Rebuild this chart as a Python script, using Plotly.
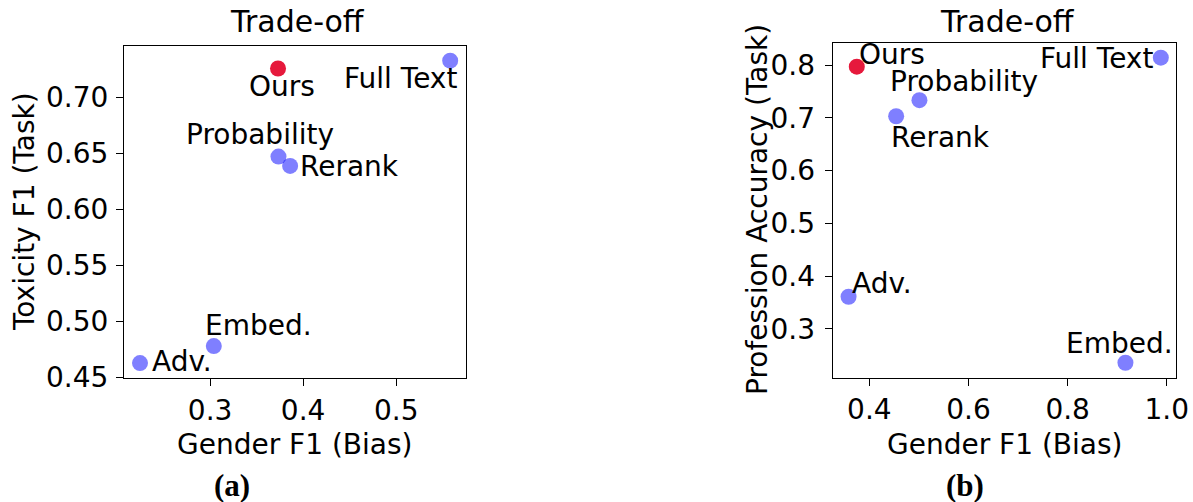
import plotly.graph_objects as go

# ---- data ----
methods_a = ["Ours", "Full Text", "Probability", "Rerank", "Embed.", "Adv."]
bias_a = [0.373, 0.558, 0.3735, 0.386, 0.304, 0.2247]
task_a = [0.726, 0.733, 0.6473, 0.639, 0.478, 0.4628]

methods_b = ["Ours", "Full Text", "Probability", "Rerank", "Adv.", "Embed."]
bias_b = [0.3746, 0.988, 0.501, 0.454, 0.358, 0.9166]
task_b = [0.797, 0.814, 0.7335, 0.703, 0.361, 0.236]

xticks_a = [0.3, 0.4, 0.5]
yticks_a = [0.45, 0.50, 0.55, 0.60, 0.65, 0.70]
xticks_b = [0.4, 0.6, 0.8, 1.0]
yticks_b = [0.3, 0.4, 0.5, 0.6, 0.7, 0.8]

FW, FH = 1193, 502


def xp(s):
    return s / FW


def yp(s):
    return 1 - s / FH


FONT = "DejaVu Sans"
FS = 28
RED = "#e6193c"
BLUE = "rgba(0,0,255,0.5)"

fig = go.Figure()


def colors(names):
    return [RED if n == "Ours" else BLUE for n in names]


fig.add_trace(go.Scatter(x=bias_a, y=task_a, mode="markers", xaxis="x", yaxis="y",
                         marker=dict(size=16, color=colors(methods_a), line=dict(width=0)),
                         text=methods_a, showlegend=False))
fig.add_trace(go.Scatter(x=bias_b, y=task_b, mode="markers", xaxis="x2", yaxis="y2",
                         marker=dict(size=16, color=colors(methods_b), line=dict(width=0)),
                         text=methods_b, showlegend=False))

# label placement (anchor, xshift, yshift) per method, per panel
place_a = {
    "Ours": ("center", 4, -18),
    "Full Text": ("right", 9, -18),
    "Probability": ("center", -18, 22),
    "Rerank": ("left", 8, -1),
    "Embed.": ("left", -11, 21),
    "Adv.": ("left", 10, 2),
}
place_b = {
    "Ours": ("left", 0, 12),
    "Full Text": ("right", -6, -1),
    "Probability": ("left", -31, 19),
    "Rerank": ("left", -7, -21),
    "Adv.": ("left", 1, 13),
    "Embed.": ("right", 50, 19),
}

annotations = []
for names, xs, ys, place, xr, yr in [
    (methods_a, bias_a, task_a, place_a, "x", "y"),
    (methods_b, bias_b, task_b, place_b, "x2", "y2"),
]:
    for n, xv, yv in zip(names, xs, ys):
        anc, dx, dy = place[n]
        annotations.append(dict(x=xv, y=yv, xref=xr, yref=yr, text=n, showarrow=False,
                                xanchor=anc, yanchor="middle", xshift=dx, yshift=dy,
                                font=dict(family=FONT, size=FS, color="black")))


def paper_text(cx, cy, text, size, family=FONT, angle=0):
    annotations.append(dict(x=xp(cx), y=yp(cy), xref="paper", yref="paper", text=text,
                            showarrow=False, xanchor="center", yanchor="middle",
                            textangle=angle,
                            font=dict(family=family, size=size, color="black")))


# panel titles
paper_text(297.5, 22, "Trade-off", 30)
paper_text(1007.5, 21.5, "Trade-off", 30)
# axis titles
paper_text(294.5, 444, "Gender F1 (Bias)", FS)
paper_text(1004.2, 444, "Gender F1 (Bias)", FS)
paper_text(24, 212, "Toxicity F1 (Task)", FS, angle=-90)
paper_text(757, 210, "Profession Accuracy (Task)", FS, angle=-90)
# captions
paper_text(232, 485, "<b>(a)</b>", 31, family="Liberation Serif")
paper_text(965, 485, "<b>(b)</b>", 31, family="Liberation Serif")

axis_common = dict(showline=True, mirror=True, linecolor="black", linewidth=1.2,
                   ticks="outside", ticklen=7, tickwidth=1.2, tickcolor="black",
                   showgrid=False, zeroline=False, automargin=False,
                   tickfont=dict(family=FONT, size=FS, color="black"))

fig.update_layout(
    template="none",
    width=FW, height=FH,
    margin=dict(l=0, r=0, t=0, b=0),
    paper_bgcolor="white", plot_bgcolor="white",
    xaxis=dict(axis_common, domain=[xp(124), xp(466)], range=[0.2075, 0.575],
               tickvals=xticks_a, tickformat=".1f", anchor="y", ticklabelstandoff=0),
    yaxis=dict(axis_common, domain=[yp(378), yp(45.7)], range=[0.4495, 0.7464],
               tickvals=yticks_a, tickformat=".2f", anchor="x", ticklabelstandoff=2),
    xaxis2=dict(axis_common, domain=[xp(832.7), xp(1175.7)], range=[0.326, 1.018],
                tickvals=xticks_b, tickformat=".1f", anchor="y2", ticklabelstandoff=0),
    yaxis2=dict(axis_common, domain=[yp(377.5), yp(42.7)], range=[0.208, 0.8424],
                tickvals=yticks_b, tickformat=".1f", anchor="x2", ticklabelstandoff=4),
    annotations=annotations,
)

# remove the browser's default page margin so the figure fills the window exactly
fig.write_html("out.html", config={"displayModeBar": False},
               post_script="document.body.style.margin='0';")
